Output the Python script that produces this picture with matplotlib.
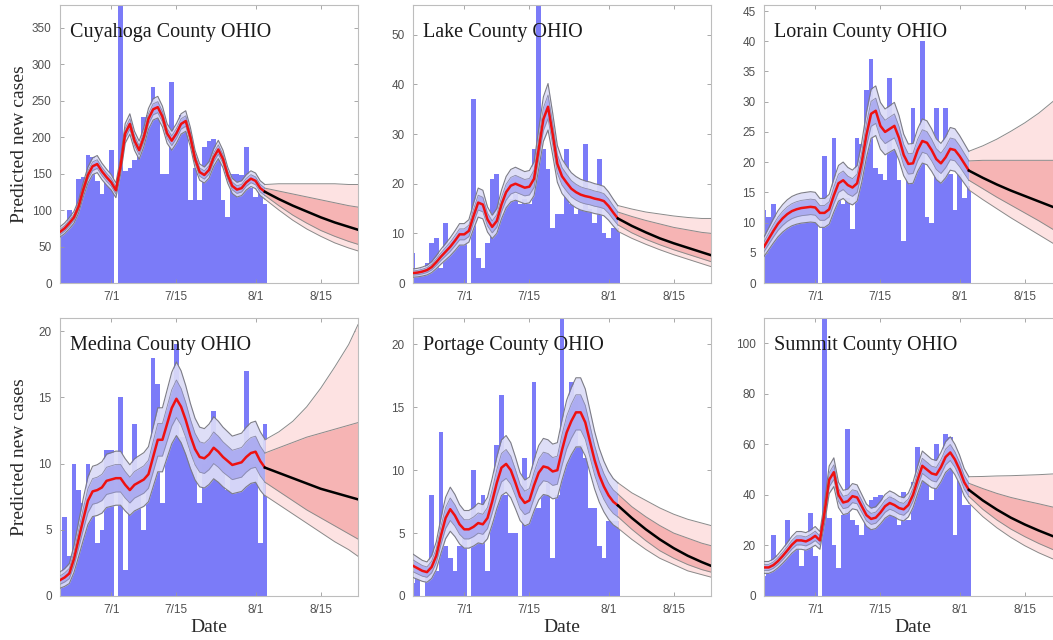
import numpy as np
import pandas as pd
import matplotlib
matplotlib.use("Agg")
from matplotlib import pyplot as plt

# daily dates of the observed cases, 6/20 .. 8/3
dates = pd.date_range("2020-06-20", "2020-08-03")
forecast_dates = pd.to_datetime(["2020-08-03", "2020-08-06", "2020-08-09", "2020-08-12",
                                 "2020-08-15", "2020-08-18", "2020-08-21", "2020-08-23"])
tick_dates = pd.to_datetime(["2020-07-01", "2020-07-15", "2020-08-01", "2020-08-15"])
tick_labels = ["7/1", "7/15", "8/1", "8/15"]

titles = ["Cuyahoga County OHIO", "Lake County OHIO", "Lorain County OHIO",
          "Medina County OHIO", "Portage County OHIO", "Summit County OHIO"]
y_tops = [381, 56, 46, 21, 22.1, 110]
y_steps = [50, 10, 5, 5, 5, 20]

cuyahoga_cases = [70, 75, 100, 90, 143, 145, 175, 172, 140, 122, 140, 182, 0, 420, 153,
                  158, 168, 178, 228, 230, 268, 250, 150, 150, 276, 210, 230, 228, 114, 158,
                  114, 187, 195, 197, 185, 114, 90, 150, 150, 148, 187, 130, 118, 130, 108]
cuyahoga_fit = [70, 75, 82, 90, 105, 128, 148, 160, 163, 153, 145, 138, 127, 160, 205,
                218, 195, 182, 200, 225, 238, 241, 228, 205, 195, 205, 218, 222, 200, 170,
                152, 148, 155, 172, 183, 170, 148, 133, 128, 130, 138, 143, 140, 130, 125]
# lo95, lo50, mean, hi50, hi95
cuyahoga_forecast = [[115, 100, 86, 74, 64, 55, 48, 44],
                     [120, 106, 93, 82, 72, 64, 57, 53],
                     [125, 115, 106, 98, 90, 83, 77, 73],
                     [130, 126, 122, 118, 114, 110, 106, 104],
                     [135, 136, 136, 136, 136, 136, 135, 135]]

lake_cases = [6, 2, 3, 4, 8, 9, 3, 12, 8, 9, 10, 10, 0, 37, 5,
              3, 8, 21, 22, 14, 17, 17, 18, 16, 17, 16, 27, 60, 27, 23,
              11, 14, 14, 27, 16, 14, 15, 28, 15, 12, 25, 10, 9, 11, 11]
lake_fit = [2, 2.1, 2.3, 2.6, 3.2, 4.2, 5.3, 6.3, 7.3, 8.5, 9.8, 9.8, 10.5, 13.5, 16.2,
            15.8, 12.8, 11.3, 12.5, 15.8, 18.3, 19.6, 20.0, 19.6, 19.2, 19.4, 21.0, 27.0, 33.0, 35.5,
            30.0, 24.0, 21.5, 20.2, 19.0, 18.3, 17.8, 17.5, 17.3, 17.0, 16.8, 16.5, 15.5, 14.2, 13.0]
lake_forecast = [[10.4, 9.0, 7.8, 6.7, 5.7, 4.8, 3.9, 3.3],
                 [11.7, 10.1, 8.8, 7.7, 6.7, 5.8, 4.9, 4.3],
                 [13.0, 11.5, 10.2, 9.0, 8.0, 7.1, 6.2, 5.6],
                 [14.3, 13.4, 12.6, 11.9, 11.2, 10.7, 10.2, 10.0],
                 [15.6, 14.9, 14.3, 13.9, 13.5, 13.2, 13.0, 13.0]]

lorain_cases = [12, 11, 13, 10, 11, 11, 12, 12, 12, 12, 12, 12, 0, 21, 14,
                24, 14, 13, 14, 9, 24, 23, 32, 37, 19, 18, 17, 34, 22, 17,
                7, 21, 29, 22, 40, 11, 10, 29, 17, 29, 18, 12, 18, 14, 16]
lorain_fit = [6.0, 7.3, 8.6, 9.8, 10.7, 11.4, 11.9, 12.2, 12.4, 12.5, 12.6, 12.5, 11.6, 11.6, 12.2,
              14.5, 16.5, 17.0, 16.2, 15.8, 16.5, 20.0, 24.5, 28.0, 28.5, 26.0, 25.0, 25.5, 26.0, 24.0,
              21.2, 19.7, 19.8, 22.0, 23.5, 23.2, 22.0, 20.5, 19.8, 20.8, 22.2, 22.0, 21.0, 19.8, 18.6]
lorain_forecast = [[15.4, 13.8, 12.3, 10.8, 9.4, 8.0, 6.6, 5.7],
                   [17.0, 15.6, 14.2, 12.9, 11.6, 10.3, 8.9, 7.9],
                   [18.6, 17.4, 16.3, 15.3, 14.4, 13.5, 12.6, 12.1],
                   [20.2, 20.3, 20.3, 20.3, 20.3, 20.3, 20.3, 20.3],
                   [21.8, 22.7, 23.8, 25.1, 26.5, 28.1, 30.0, 31.4]]

medina_cases = [1, 6, 3, 10, 8, 7, 10, 8, 4, 5, 11, 11, 0, 15, 2,
                9, 13, 9, 5, 9, 18, 16, 7, 14, 15, 19, 12, 12, 11, 10,
                7, 10, 11, 14, 12, 11, 8, 10, 9, 9, 17, 10, 10, 4, 13]
medina_fit = [1.2, 1.4, 1.7, 2.8, 4.3, 5.8, 7.2, 7.9, 8.0, 8.2, 8.7, 8.8, 8.9, 8.9, 8.4,
              8.0, 8.4, 8.6, 8.8, 9.2, 10.5, 11.8, 11.8, 13.0, 14.2, 14.9, 14.3, 13.3, 12.1, 11.1,
              10.5, 10.4, 10.7, 11.2, 10.9, 10.5, 10.2, 9.9, 10.0, 10.1, 10.5, 10.8, 10.9, 10.2, 9.7]
medina_forecast = [[7.6, 6.9, 6.2, 5.5, 4.8, 4.1, 3.5, 3.0],
                   [8.6, 7.9, 7.2, 6.5, 5.9, 5.3, 4.7, 4.3],
                   [9.7, 9.3, 8.9, 8.5, 8.1, 7.8, 7.5, 7.3],
                   [10.8, 11.2, 11.6, 12.0, 12.3, 12.6, 12.9, 13.1],
                   [11.8, 12.4, 13.2, 14.3, 15.7, 17.3, 19.0, 20.5]]

portage_cases = [1, 2, 0, 2, 8, 2, 13, 4, 3, 2, 4, 5, 0, 10, 5,
                 8, 2, 6, 12, 16, 8, 5, 5, 0, 11, 7, 17, 7, 8, 9,
                 3, 8, 25, 12, 17, 16, 12, 11, 7, 7, 4, 3, 6, 6, 6]
portage_fit = [2.4, 2.2, 2.0, 1.9, 2.3, 3.2, 4.8, 6.2, 6.9, 6.4, 5.7, 5.3, 5.3, 5.5, 5.8,
               5.7, 6.2, 7.5, 9.0, 10.2, 10.5, 10.0, 9.0, 7.9, 7.4, 7.6, 8.8, 9.8, 10.3, 10.2,
               9.9, 10.0, 11.6, 13.0, 13.9, 14.6, 14.6, 13.8, 12.3, 10.8, 9.6, 8.7, 8.0, 7.5, 7.2]
portage_forecast = [[5.4, 4.5, 3.7, 3.0, 2.5, 2.0, 1.7, 1.5],
                    [6.3, 5.3, 4.4, 3.6, 3.0, 2.5, 2.1, 1.9],
                    [7.2, 6.2, 5.3, 4.5, 3.8, 3.2, 2.7, 2.4],
                    [8.1, 7.1, 6.3, 5.6, 5.0, 4.6, 4.2, 4.0],
                    [9.0, 8.2, 7.6, 7.0, 6.5, 6.1, 5.8, 5.6]]

summit_cases = [8, 12, 24, 16, 17, 30, 22, 20, 12, 20, 33, 16, 0, 150, 31,
                20, 11, 32, 66, 30, 28, 24, 34, 38, 39, 40, 38, 40, 35, 28,
                41, 30, 45, 59, 51, 53, 38, 60, 48, 64, 63, 24, 53, 36, 36]
summit_fit = [11.3, 11.3, 12.2, 13.8, 15.8, 18.0, 20.3, 22.0, 22.0, 21.6, 22.5, 23.8, 22.0, 33.0, 46.0,
              49.0, 40.0, 37.0, 37.5, 39.5, 39.0, 35.5, 32.0, 30.5, 31.0, 33.0, 35.5, 36.8, 36.0, 34.8,
              34.3, 36.0, 40.0, 46.0, 51.5, 50.0, 48.5, 48.0, 51.0, 55.0, 56.8, 54.0, 50.0, 45.0, 42.0]
summit_forecast = [[36.8, 31.4, 27.0, 23.2, 19.9, 17.1, 14.7, 13.3],
                   [39.4, 34.3, 30.1, 26.5, 23.5, 20.8, 18.4, 17.0],
                   [42.0, 37.8, 34.2, 31.0, 28.3, 25.9, 23.7, 22.5],
                   [44.6, 42.5, 40.6, 39.0, 37.7, 36.5, 35.2, 34.5],
                   [47.2, 47.3, 47.5, 47.6, 47.8, 48.0, 48.3, 48.5]]

all_cases = [cuyahoga_cases, lake_cases, lorain_cases, medina_cases, portage_cases, summit_cases]
all_fits = [cuyahoga_fit, lake_fit, lorain_fit, medina_fit, portage_fit, summit_fit]
all_forecasts = [cuyahoga_forecast, lake_forecast, lorain_forecast,
                 medina_forecast, portage_forecast, summit_forecast]

# credible band half widths, scaled on fit**0.6
INNER = 0.28
OUTER = 0.55

W, H = 1053, 640
lefts = [60, 413, 764]
tops = [5, 318]
AX_W, AX_H = 298, 278
frame = "#bdbdbd"
serif = "Liberation Serif"


def plot_county(ax, i):
    cases = np.array(all_cases[i], dtype=float)
    fit = np.array(all_fits[i], dtype=float)
    lo95, lo50, mid, hi50, hi95 = [np.array(f) for f in all_forecasts[i]]

    ax.bar(dates, cases, width=1.0, color="#7b7bf8", linewidth=0, zorder=1)

    spread = fit ** 0.6
    ax.fill_between(dates, fit - OUTER * spread, fit + OUTER * spread,
                    color="#dcdcf7", alpha=0.92, linewidth=0, zorder=2)
    ax.fill_between(dates, fit - INNER * spread, fit + INNER * spread,
                    color="#a9a9f1", alpha=0.92, linewidth=0, zorder=2)
    for k, c, w in [(OUTER, "#7c7c86", 0.8), (INNER, "#8a8aa8", 0.6)]:
        ax.plot(dates, fit + k * spread, color=c, lw=w, zorder=3)
        ax.plot(dates, fit - k * spread, color=c, lw=w, zorder=3)
    ax.plot(dates, fit, color="#ee1111", lw=1.8, zorder=4)

    ax.fill_between(forecast_dates, lo95, hi95, color="#fde2e2", linewidth=0, zorder=2)
    ax.fill_between(forecast_dates, lo50, hi50, color="#f6b4b4", linewidth=0, zorder=2)
    for edge in (lo95, lo50, hi50, hi95):
        ax.plot(forecast_dates, edge, color="#8a8a8a", lw=0.7, zorder=3)
    ax.plot(forecast_dates, mid, color="black", lw=1.8, zorder=4)

    ax.set_xlim(pd.Timestamp("2020-06-20"), pd.Timestamp("2020-08-23"))
    ax.set_ylim(0, y_tops[i])
    ax.set_xticks(tick_dates)
    ax.set_xticklabels(tick_labels)
    ax.set_yticks(np.arange(0, y_tops[i], y_steps[i]))
    ax.tick_params(direction="in", length=3, width=0.6, color="#9a9a9a",
                   labelsize=8.5, labelcolor="#505050", top=True, right=True, pad=6)
    for lab in ax.get_xticklabels() + ax.get_yticklabels():
        lab.set_family("Liberation Sans")
    for s in ax.spines.values():
        s.set_color(frame)
        s.set_linewidth(0.8)

    ax.text(0.034, 0.935, titles[i], transform=ax.transAxes, family=serif,
            fontsize=14.5, color="#1a1a1a", va="top", ha="left", zorder=6)


fig = plt.figure(figsize=(W / 100, H / 100), dpi=100)
for i in range(6):
    row, col = divmod(i, 3)
    ax = fig.add_axes([lefts[col] / W, (H - tops[row] - AX_H) / H, AX_W / W, AX_H / H])
    plot_county(ax, i)
    if col == 0:
        ax.set_ylabel("Predicted new cases", family=serif, fontsize=14, color="#2a2a2a")
        ax.yaxis.set_label_coords(-0.108, 0.5)
    if row == 1:
        ax.set_xlabel("Date", family=serif, fontsize=14, color="#2a2a2a", labelpad=2)

fig.savefig("out.png", dpi=100)
